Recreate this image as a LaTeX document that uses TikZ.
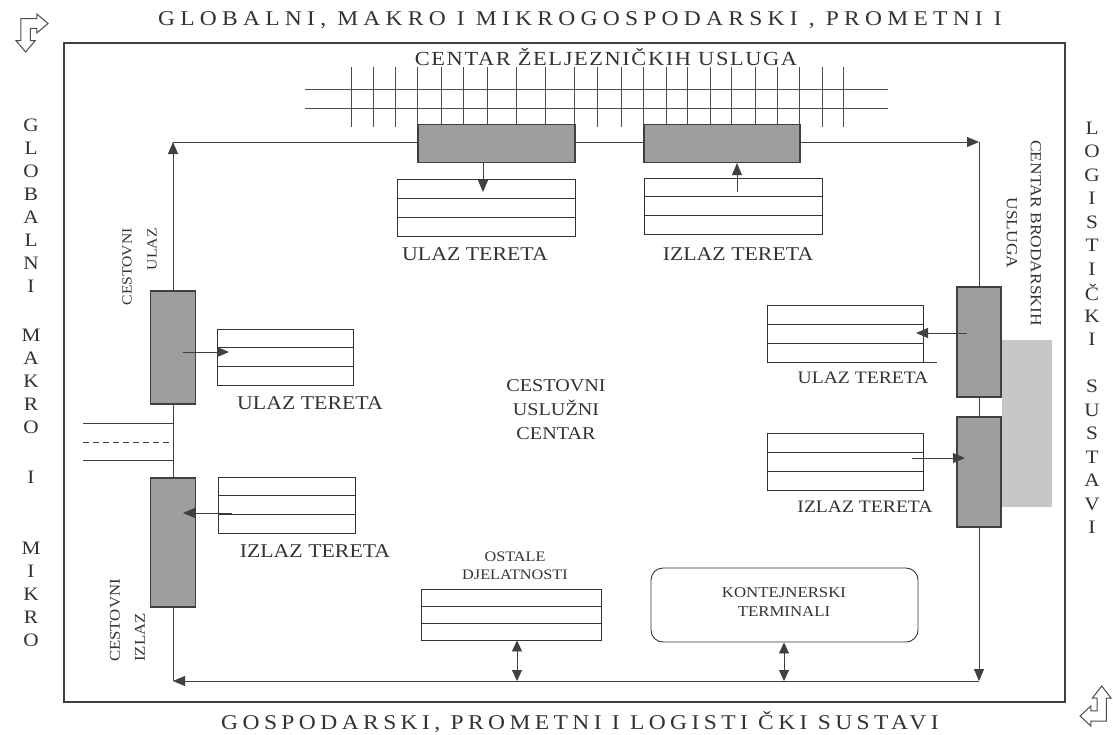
\documentclass[tikz,border=0pt]{standalone}
\usepackage{fontspec}
\setmainfont{Liberation Serif}[FakeStretch=1.12]
\newfontfamily\titlefont{Liberation Serif}[FakeStretch=1.12,LetterSpace=25]
\newfontfamily\bottomfont{Liberation Serif}[FakeStretch=1.12,LetterSpace=21]
\newfontfamily\centarfont{Liberation Serif}[FakeStretch=1.12,LetterSpace=8]
\usetikzlibrary{arrows.meta,calc}
\tikzset{
  ln/.style={draw=black!75, line width=0.8pt},
  rail/.style={draw=black!70, line width=1pt},
  arr/.style={ln, -{Triangle[length=12pt,width=10pt]}},
  darr/.style={ln, {Triangle[length=11pt,width=10pt]}-{Triangle[length=11pt,width=10pt]}},
  gbox/.style={draw=black!75, fill=black!38, line width=1.3pt, inner sep=0pt},
  tline/.style={draw=black!80, line width=0.9pt},
  tbl/.style={draw=black!80, fill=white, line width=0.9pt, inner sep=0pt,
    path picture={\foreach \f in {0.333,0.667}
      \draw[tline] ($(path picture bounding box.north west)!\f!(path picture bounding box.south west)$) --
                   ($(path picture bounding box.north east)!\f!(path picture bounding box.south east)$);}},
  txt/.style={text=black!80, inner sep=0pt},
  lbl/.style={txt, font=\fontsize{19.5}{20}\selectfont},
  rlbl/.style={txt, font=\fontsize{17.5}{18}\selectfont},
  sidel/.style={txt, font=\fontsize{19}{20}\selectfont},
  icon/.style={draw=black!70, line width=1pt, fill=white, line join=miter}
}
\begin{document}
\begin{tikzpicture}[x=1pt,y=-1pt]
\useasboundingbox (0,0) rectangle (1113,734);
\fill[white] (0,0) rectangle (1113,734);

% outer frame
\draw[draw=black!75, line width=1.1pt] (64,43) rectangle (1065,702);

% titles
\node[txt, font=\titlefont\fontsize{21}{21}\selectfont] (title) at (580,20) {GLOBALNI, MAKRO I MIKROGOSPODARSKI , PROMETNI I};
\node[txt, font=\bottomfont\fontsize{21}{21}\selectfont] (btitle) at (580,722) {GOSPODARSKI, PROMETNI I LOGISTI ČKI SUSTAVI};

% corner icons
\begin{scope}[shift={(16,14)}, xscale=32, yscale=38]
  \draw[icon] (0.3,1) -- (0.6,0.7) -- (0.45,0.7) -- (0.45,0.38) -- (0.65,0.38) -- (0.65,0.5) -- (1,0.25)
    -- (0.65,0) -- (0.65,0.12) -- (0.15,0.12) -- (0.15,0.7) -- (0,0.7) -- cycle;
\end{scope}
\begin{scope}[shift={(1111,726)}, xscale=-31, yscale=-40]
  \draw[icon] (0.3,1) -- (0.6,0.7) -- (0.45,0.7) -- (0.45,0.38) -- (0.65,0.38) -- (0.65,0.5) -- (1,0.25)
    -- (0.65,0) -- (0.65,0.12) -- (0.15,0.12) -- (0.15,0.7) -- (0,0.7) -- cycle;
\end{scope}

% side letters
\foreach \l/\yy [count=\i] in {G/125,L/148,O/171,B/194,A/217,L/240,N/263,I/286,M/335,A/358,K/381,R/404,O/427,I/477,M/548,I/571,K/594,R/617,O/640}
  \node[sidel] (ll\i) at (31,\yy) {\l};
\foreach \l/\yy [count=\i] in {L/128,O/151,G/175,I/198,S/222,T/245,I/269,Č/292,K/316,I/339,S/386,U/410,S/433,T/457,A/480,V/504,I/527}
  \node[sidel] (rl\i) at (1092,\yy) {\l};

% railway centre
\node[txt, font=\centarfont\fontsize{20}{20}\selectfont] (rail) at (606,57) {CENTAR ŽELJEZNIČKIH USLUGA};
\draw[rail] (305,89) -- (888,89);
\draw[rail] (305,108) -- (888,108);
\foreach \xx in {351,373,395,417,441,463,487,516,545,574,597,621,643,666,687,710,731,755,777,799,822,843}
  \draw[rail] (\xx,67) -- (\xx,127);

% light shaded area (port)
\fill[black!22] (1002,340) rectangle (1052,507);

% corner coordinates of the circulation loop
\coordinate (ctl) at (173,142);
\coordinate (ctr) at (979,142);
\coordinate (cbl) at (173,681);
\coordinate (cbr) at (979,681);

% grey boxes
\node[gbox, minimum width=157, minimum height=38] (tb1) at (496.5,143.5) {};
\node[gbox, minimum width=156, minimum height=38] (tb2) at (722,143.5) {};
\node[gbox, minimum width=45, minimum height=113] (lb1) at (173,347.5) {};
\node[gbox, minimum width=45, minimum height=129] (lb2) at (173,542.5) {};
\node[gbox, minimum width=44, minimum height=110] (rb1) at (979,342) {};
\node[gbox, minimum width=44, minimum height=110] (rb2) at (979,472) {};

% loop
\draw[arr] (lb1.north) -- (ctl);
\draw[ln] (ctl) -- (tb1.west |- ctl);
\draw[ln] (tb1.east |- ctl) -- (tb2.west |- ctl);
\draw[arr] (tb2.east |- ctl) -- (ctr);
\draw[ln] (ctr) -- (rb1.north);
\draw[ln] (rb1.south) -- (rb2.north);
\draw[arr] (rb2.south) -- (cbr);
\draw[arr] (cbr) -- (cbl);
\draw[ln] (lb2.south) -- (cbl);
\draw[ln] (lb1.south) -- (lb2.north);

% road
\coordinate (r1a) at (83,423); \coordinate (r2a) at (83,442); \coordinate (r3a) at (83,460);
\draw[ln] (r1a) -- (r1a -| lb1.south);
\draw[ln, dash pattern=on 6pt off 4pt] (r2a) -- (r2a -| lb1.south);
\draw[ln] (r3a) -- (r3a -| lb1.south);

% tables
\node[tbl, minimum width=178, minimum height=57] (t1) at (486,207.5) {};
\node[tbl, minimum width=178, minimum height=56] (t2) at (733,206) {};
\node[tbl, minimum width=136, minimum height=56] (lt1) at (285,357) {};
\node[tbl, minimum width=137, minimum height=56] (lt2) at (286.5,505) {};
\node[tbl, minimum width=156, minimum height=57] (rt1) at (845,333.5) {};
\node[tbl, minimum width=156, minimum height=57] (rt2) at (845,461.5) {};
\node[tbl, minimum width=180, minimum height=51] (ot) at (511,614.5) {};
\draw[ln] (rt1.south east) -- ++(14,0);

% container terminals
\node[draw=black!80, line width=0.9pt, rounded corners=12pt, minimum width=267, minimum height=74, inner sep=0pt] (kt) at (784.5,605) {};
\node[txt, font=\fontsize{15}{19}\selectfont, align=center] (ktl) at (784,602.5) {KONTEJNERSKI\\TERMINALI};

% arrows to / from tables
\coordinate (a1e) at (483,192);
\draw[arr] (tb1.south -| a1e) -- (a1e);
\coordinate (a2s) at (737,192);
\draw[arr] (a2s) -- (tb2.south -| a2s);
\coordinate (a3s) at (183,352); \coordinate (a3e) at (229,352);
\draw[arr] (a3s) -- (a3e);
\coordinate (a4s) at (232,513); \coordinate (a4e) at (183,513);
\draw[arr] (a4s) -- (a4e);
\coordinate (a5s) at (967,333); \coordinate (a5e) at (916,333);
\draw[arr] (a5s) -- (a5e);
\coordinate (a6s) at (912,458); \coordinate (a6e) at (965,458);
\draw[arr] (a6s) -- (a6e);
\coordinate (d1) at (517,681);
\draw[darr] (ot.south -| d1) -- (d1);
\coordinate (d2) at (784,681);
\draw[darr] (kt.south -| d2) -- (d2);

% labels
\node[lbl] (l1) at (475,254) {ULAZ TERETA};
\node[lbl] (l2) at (738,254) {IZLAZ TERETA};
\node[lbl] (l3) at (310,403) {ULAZ TERETA};
\node[lbl] (l4) at (315,551) {IZLAZ TERETA};
\node[rlbl] (l5) at (863,378) {ULAZ TERETA};
\node[rlbl] (l6) at (865,507) {IZLAZ TERETA};
\node[txt, font=\fontsize{14.5}{18}\selectfont, align=center] (ost) at (515,566) {OSTALE\\DJELATNOSTI};
\node[txt, font=\fontsize{18}{24}\selectfont, align=center] (cen) at (556,410) {CESTOVNI\\USLUŽNI\\CENTAR};

% rotated labels
\node[txt, font=\fontsize{14}{14}\selectfont, rotate=90, anchor=east] (cu1) at (127,228) {CESTOVNI};
\node[txt, font=\fontsize{14}{14}\selectfont, rotate=90, anchor=east] (cu2) at (152,228) {ULAZ};
\node[txt, font=\fontsize{15}{15}\selectfont, rotate=90, anchor=west] (ci1) at (115,662) {CESTOVNI};
\node[txt, font=\fontsize{15}{15}\selectfont, rotate=90, anchor=west] (ci2) at (140,662) {IZLAZ};
\node[txt, font=\fontsize{15.5}{24}\selectfont, rotate=-90, align=center] (cb) at (1024,233) {CENTAR BRODARSKIH\\USLUGA};
\end{tikzpicture}
\end{document}
